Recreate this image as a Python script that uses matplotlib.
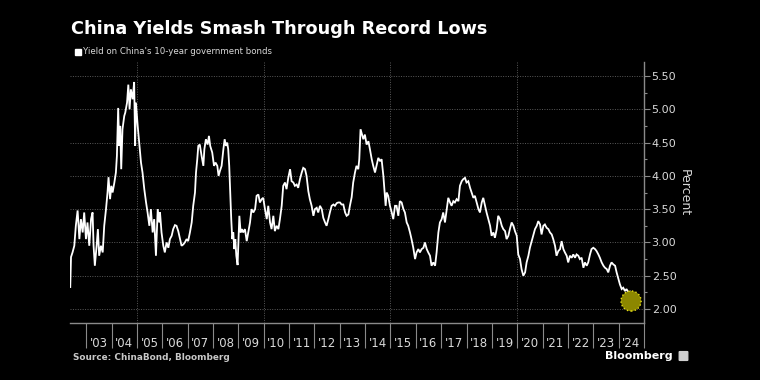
import matplotlib
matplotlib.use("Agg")
import matplotlib.pyplot as plt
import numpy as np
from matplotlib.ticker import FixedLocator, FixedFormatter, FormatStrFormatter
from matplotlib.patches import FancyBboxPatch, Rectangle

# datos (anio decimal, rendimiento en %)
anios_a = [2002.37, 2002.40, 2002.46, 2002.53, 2002.59, 2002.66, 2002.73, 2002.79, 2002.86, 2002.92,
           2002.99, 2003.05, 2003.12, 2003.19, 2003.25, 2003.29, 2003.34, 2003.41, 2003.46, 2003.51,
           2003.58, 2003.65, 2003.71, 2003.78, 2003.84, 2003.88, 2003.94, 2003.99, 2004.04, 2004.11,
           2004.17, 2004.21, 2004.26, 2004.30, 2004.34, 2004.38, 2004.43, 2004.50, 2004.54, 2004.61,
           2004.66, 2004.71, 2004.76, 2004.83, 2004.89, 2004.93, 2004.96, 2005.03, 2005.09, 2005.16,
           2005.22, 2005.29, 2005.36, 2005.42, 2005.49, 2005.55, 2005.62, 2005.68, 2005.75, 2005.82,
           2005.88]
valores_a = [2.33, 2.78, 2.85, 2.95, 3.25, 3.48, 3.05, 3.35, 3.15, 3.45,
             3.05, 3.30, 2.95, 3.35, 3.45, 2.95, 2.65, 2.95, 3.20, 2.80,
             2.95, 2.85, 3.25, 3.50, 3.75, 3.98, 3.65, 3.85, 3.75, 3.90,
             4.05, 4.30, 5.02, 4.45, 4.75, 4.10, 4.70, 4.90, 4.95, 5.10,
             5.37, 5.00, 5.30, 5.15, 5.41, 4.45, 5.10, 4.75, 4.50, 4.20,
             4.05, 3.80, 3.60, 3.45, 3.25, 3.50, 3.15, 3.35, 2.80, 3.50,
             3.30]

anios_b = [2005.91, 2005.97, 2006.04, 2006.10, 2006.17, 2006.24, 2006.30, 2006.37, 2006.43, 2006.50,
           2006.56, 2006.63, 2006.70, 2006.76, 2006.83, 2006.89, 2006.96, 2007.02, 2007.09, 2007.16,
           2007.22, 2007.29, 2007.33, 2007.38, 2007.42, 2007.48, 2007.55, 2007.62, 2007.66, 2007.72,
           2007.79, 2007.84, 2007.89, 2007.97, 2008.04, 2008.10, 2008.17, 2008.22, 2008.27, 2008.34,
           2008.41, 2008.46, 2008.51, 2008.56, 2008.60, 2008.64, 2008.68, 2008.72, 2008.76, 2008.80,
           2008.84, 2008.88, 2008.92, 2008.97, 2009.01, 2009.04, 2009.09, 2009.14, 2009.19, 2009.26,
           2009.33, 2009.39, 2009.46, 2009.52, 2009.59]
valores_b = [3.45, 3.15, 2.95, 2.85, 3.00, 2.92, 3.05, 3.10, 3.20, 3.26,
             3.25, 3.17, 3.05, 2.95, 2.97, 3.00, 3.05, 3.02, 3.15, 3.30,
             3.55, 3.75, 4.05, 4.25, 4.45, 4.47, 4.30, 4.15, 4.40, 4.55,
             4.47, 4.60, 4.45, 4.35, 4.15, 4.20, 4.15, 4.00, 4.07, 4.15,
             4.40, 4.55, 4.45, 4.50, 4.40, 4.15, 3.75, 3.35, 3.05, 3.15,
             2.90, 3.05, 2.80, 2.66, 3.10, 3.40, 3.15, 3.20, 3.15, 3.20,
             3.02, 3.15, 3.30, 3.50, 3.45]

anios_c = [2009.66, 2009.72, 2009.79, 2009.85, 2009.92, 2009.98, 2010.05, 2010.12, 2010.18, 2010.25,
           2010.31, 2010.38, 2010.44, 2010.51, 2010.58, 2010.64, 2010.71, 2010.77, 2010.84, 2010.90,
           2010.97, 2011.04, 2011.10, 2011.17, 2011.23, 2011.30, 2011.36, 2011.43, 2011.50, 2011.56,
           2011.63, 2011.69, 2011.76, 2011.82, 2011.89, 2011.96, 2012.02, 2012.09, 2012.15, 2012.22,
           2012.29, 2012.35, 2012.42, 2012.48, 2012.55, 2012.61, 2012.68, 2012.75, 2012.81, 2012.88,
           2012.94, 2013.01, 2013.07, 2013.14, 2013.21, 2013.27, 2013.34]
valores_c = [3.50, 3.70, 3.72, 3.60, 3.65, 3.67, 3.50, 3.35, 3.55, 3.30,
             3.20, 3.40, 3.17, 3.25, 3.20, 3.35, 3.55, 3.85, 3.90, 3.80,
             3.97, 4.10, 3.92, 3.90, 3.85, 3.87, 3.82, 3.95, 4.05, 4.12,
             4.10, 4.00, 3.77, 3.65, 3.55, 3.40, 3.50, 3.52, 3.45, 3.55,
             3.50, 3.37, 3.30, 3.25, 3.35, 3.45, 3.55, 3.57, 3.55, 3.59,
             3.60, 3.60, 3.57, 3.57, 3.45, 3.40, 3.42]

anios_d = [2013.40, 2013.47, 2013.53, 2013.60, 2013.66, 2013.73, 2013.77, 2013.82, 2013.88, 2013.93,
           2013.99, 2014.06, 2014.13, 2014.19, 2014.26, 2014.32, 2014.39, 2014.45, 2014.52, 2014.59,
           2014.65, 2014.72, 2014.76, 2014.81, 2014.85, 2014.91, 2014.98, 2015.05, 2015.11, 2015.18,
           2015.24, 2015.31, 2015.37, 2015.44, 2015.51, 2015.57, 2015.64, 2015.70, 2015.77, 2015.83,
           2015.90, 2015.97, 2016.03, 2016.10, 2016.16, 2016.23, 2016.30, 2016.36, 2016.43, 2016.49,
           2016.56, 2016.62, 2016.69, 2016.76, 2016.82, 2016.89, 2016.95, 2017.02, 2017.08]
valores_d = [3.55, 3.68, 3.90, 4.05, 4.15, 4.10, 4.25, 4.70, 4.62, 4.55,
             4.62, 4.47, 4.52, 4.40, 4.25, 4.15, 4.05, 4.15, 4.27, 4.22,
             4.25, 4.00, 3.80, 3.55, 3.75, 3.70, 3.55, 3.45, 3.35, 3.55,
             3.55, 3.40, 3.62, 3.60, 3.50, 3.45, 3.30, 3.25, 3.15, 3.05,
             2.92, 2.75, 2.85, 2.90, 2.85, 2.90, 2.92, 3.00, 2.90, 2.85,
             2.80, 2.65, 2.70, 2.65, 2.85, 3.15, 3.30, 3.35, 3.45]

anios_e = [2017.15, 2017.22, 2017.28, 2017.35, 2017.41, 2017.48, 2017.54, 2017.61, 2017.68, 2017.74,
           2017.81, 2017.87, 2017.94, 2018.00, 2018.07, 2018.14, 2018.20, 2018.27, 2018.33, 2018.40,
           2018.47, 2018.53, 2018.60, 2018.66, 2018.73, 2018.79, 2018.86, 2018.93, 2018.99, 2019.06,
           2019.12, 2019.19, 2019.25, 2019.32, 2019.39, 2019.45, 2019.52, 2019.58, 2019.65, 2019.71,
           2019.78, 2019.85, 2019.91, 2019.98, 2020.04, 2020.11, 2020.17, 2020.24, 2020.31, 2020.37,
           2020.44, 2020.50, 2020.57, 2020.63, 2020.70, 2020.77, 2020.83]
valores_e = [3.30, 3.50, 3.67, 3.60, 3.55, 3.62, 3.60, 3.65, 3.62, 3.85,
             3.92, 3.95, 3.97, 3.90, 3.92, 3.82, 3.75, 3.67, 3.70, 3.60,
             3.50, 3.45, 3.60, 3.67, 3.55, 3.45, 3.35, 3.25, 3.10, 3.15,
             3.07, 3.20, 3.40, 3.35, 3.25, 3.20, 3.17, 3.05, 3.10, 3.20,
             3.30, 3.25, 3.17, 3.10, 2.82, 2.75, 2.60, 2.50, 2.55, 2.70,
             2.80, 2.92, 3.02, 3.10, 3.20, 3.25, 3.32]

anios_f = [2020.90, 2020.96, 2021.03, 2021.09, 2021.16, 2021.23, 2021.29, 2021.36, 2021.42, 2021.49,
           2021.55, 2021.62, 2021.69, 2021.75, 2021.82, 2021.88, 2021.95, 2022.01, 2022.08, 2022.15,
           2022.21, 2022.28, 2022.34, 2022.41, 2022.47, 2022.54, 2022.61, 2022.67, 2022.74, 2022.80,
           2022.87, 2022.93, 2023.00, 2023.07, 2023.13, 2023.20, 2023.26, 2023.33, 2023.40, 2023.46,
           2023.53, 2023.59, 2023.66, 2023.72, 2023.79, 2023.86, 2023.92, 2023.99, 2024.05, 2024.12,
           2024.18, 2024.25, 2024.31, 2024.38, 2024.45, 2024.51]
valores_f = [3.27, 3.12, 3.25, 3.27, 3.22, 3.20, 3.15, 3.12, 3.05, 2.95,
             2.80, 2.87, 2.90, 3.02, 2.90, 2.85, 2.80, 2.70, 2.80, 2.77,
             2.82, 2.77, 2.82, 2.80, 2.75, 2.77, 2.62, 2.70, 2.65, 2.70,
             2.82, 2.90, 2.92, 2.90, 2.87, 2.82, 2.77, 2.70, 2.65, 2.62,
             2.60, 2.55, 2.65, 2.70, 2.67, 2.65, 2.55, 2.45, 2.37, 2.30,
             2.32, 2.27, 2.30, 2.25, 2.26, 2.13]

# punto resaltado (record minimo)
punto_x = 2024.49
punto_y = 2.12

anios_etiqueta = list(range(2003, 2025))
etiquetas_x = ["'" + str(a)[2:] for a in anios_etiqueta]
ticks_y = [2.0, 2.5, 3.0, 3.5, 4.0, 4.5, 5.0, 5.5]

titulo = "China Yields Smash Through Record Lows"
subtitulo = "Yield on China's 10-year government bonds"
fuente = "Source: ChinaBond, Bloomberg"

anios = anios_a + anios_b + anios_c + anios_d + anios_e + anios_f
valores = valores_a + valores_b + valores_c + valores_d + valores_e + valores_f

gris = "#8a8a8a"
texto = "#d9d9d9"

fig = plt.figure(figsize=(7.6, 3.8), dpi=100, facecolor="black")
ax = fig.add_axes([70 / 760, 1 - 323 / 380, 574 / 760, 261 / 380])
ax.set_facecolor("black")

ax.plot(anios, valores, color="white", linewidth=1.3, solid_joinstyle="miter")
ax.scatter([punto_x], [punto_y], s=210, facecolor="#8c8700", edgecolor="#e6df1a",
           linewidth=1.0, linestyle=":", zorder=5)

ax.set_xlim(2002.36, 2025.0)
ax.set_ylim(1.79, 5.71)

# rejilla punteada
for v in ticks_y:
    ax.axhline(v, color="#5a5a5a", linewidth=0.7, linestyle=(0, (1, 1.5)), zorder=0)
for a in [2005, 2010, 2015, 2020]:
    ax.axvline(a, color="#5a5a5a", linewidth=0.7, linestyle=(0, (1, 1.5)), zorder=0)

# ejes
for lado in ["left", "top"]:
    ax.spines[lado].set_visible(False)
for lado in ["bottom", "right"]:
    ax.spines[lado].set_color(gris)
    ax.spines[lado].set_linewidth(1.0)

ax.xaxis.set_major_locator(FixedLocator(list(range(2003, 2026))))
ax.xaxis.set_major_formatter(FixedFormatter([""] * 23))
ax.xaxis.set_minor_locator(FixedLocator([a + 0.5 for a in anios_etiqueta]))
ax.xaxis.set_minor_formatter(FixedFormatter(etiquetas_x))
ax.tick_params(axis="x", which="major", length=18, width=0.8, color=gris, direction="out")
ax.tick_params(axis="x", which="minor", length=0, pad=10, labelsize=8.5, labelcolor=texto)

ax.yaxis.tick_right()
ax.yaxis.set_label_position("right")
ax.yaxis.set_major_locator(FixedLocator(ticks_y))
ax.yaxis.set_major_formatter(FormatStrFormatter("%.2f"))
ax.yaxis.set_minor_locator(FixedLocator([v + 0.25 for v in ticks_y[:-1]]))
ax.tick_params(axis="y", which="major", length=4, width=0.8, color=gris, pad=1.5,
               labelsize=8, labelcolor=texto)
ax.tick_params(axis="y", which="minor", length=2.5, width=0.8, color=gris)
ax.set_ylabel("Percent", rotation=270, color=texto, fontsize=9, labelpad=10)

# textos
fig.text(71 / 760, 1 - 29 / 380, titulo, color="white", fontsize=12.7, fontweight="bold",
         va="center", ha="left")
fig.patches.append(Rectangle((75 / 760, 1 - 55 / 380), 6 / 760, 6 / 380, color="white",
                             transform=fig.transFigure, figure=fig))
fig.text(83 / 760, 1 - 52 / 380, subtitulo, color=texto, fontsize=6.2, va="center", ha="left")
fig.text(73 / 760, 1 - 357 / 380, fuente, color="#c8c8c8", fontsize=6.4, fontweight="bold",
         va="center", ha="left")
fig.text(673 / 760, 1 - 356 / 380, "Bloomberg", color="white", fontsize=8, fontweight="bold",
         va="center", ha="right")
fig.patches.append(FancyBboxPatch((680 / 760, 1 - 360 / 380), 7 / 760, 8 / 380,
                                  boxstyle="round,pad=0.001", color="#d0d0d0",
                                  transform=fig.transFigure, figure=fig))

fig.savefig("out.png", dpi=100, facecolor="black")
